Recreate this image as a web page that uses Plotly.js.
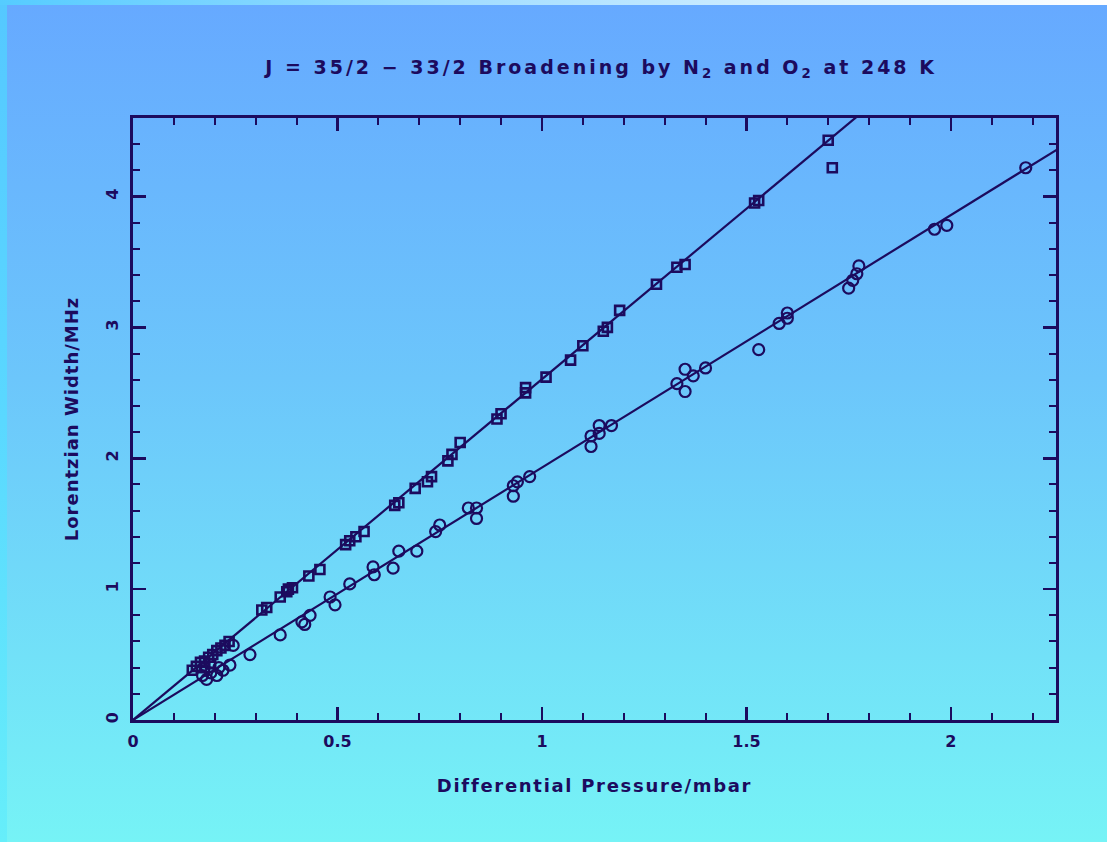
<!DOCTYPE html>
<html>
<head>
<meta charset="utf-8">
<script src="https://cdn.plot.ly/plotly-3.0.1.min.js"></script>
<style>
  html, body { margin:0; padding:0; }
  body { width:1107px; height:842px; overflow:hidden; position:relative;
         background: linear-gradient(to bottom, #66a9ff 0%, #6cc6fb 45%, #76f3f6 100%); }
  #leftstrip { position:absolute; left:0; top:0; width:7px; height:842px;
         background: linear-gradient(to bottom, #55c8ff 0%, #5ad8ff 50%, #66eefa 100%); }
  #topstrip { position:absolute; left:0; top:0; width:1107px; height:5px;
         background: linear-gradient(to right, #55ccff 0%, #9fdcff 40%, #ffffff 100%); }
  #chart { position:absolute; left:0; top:0; width:1107px; height:842px; }
  #chart .gtitle { letter-spacing: 3px; }
  #chart .xtitle { letter-spacing: 1.7px; }
  #chart .ytitle { letter-spacing: 1px; }
</style>
</head>
<body>
<div id="leftstrip"></div>
<div id="topstrip"></div>
<div id="chart"></div>
<script>
// N2 broadening data (differential pressure / mbar, Lorentzian width / MHz)
const n2Pressure = [0.145,0.155,0.165,0.175,0.185,0.195,0.205,0.215,0.225,0.235,0.175,0.19,
  0.315,0.327,0.36,0.376,0.38,0.39,0.43,0.457,0.52,0.53,0.545,0.565,
  0.64,0.65,0.69,0.72,0.73,0.77,0.78,0.80,0.89,0.90,0.96,0.96,1.01,1.07,1.10,1.15,1.16,1.19,
  1.28,1.33,1.35,1.52,1.53,1.70,1.71];
const n2Width = [0.38,0.41,0.44,0.45,0.48,0.50,0.53,0.55,0.57,0.60,0.40,0.43,
  0.84,0.86,0.94,0.98,1.00,1.01,1.10,1.15,1.34,1.37,1.40,1.44,
  1.64,1.66,1.77,1.82,1.86,1.98,2.03,2.12,2.30,2.34,2.54,2.50,2.62,2.75,2.86,2.97,3.00,3.13,
  3.33,3.46,3.48,3.95,3.97,4.43,4.22];

// O2 broadening data
const o2Pressure = [0.17,0.18,0.19,0.205,0.21,0.22,0.237,0.245,0.286,0.36,0.413,0.42,0.433,
  0.482,0.494,0.53,0.587,0.59,0.636,0.65,0.694,0.74,0.75,0.82,0.84,0.84,0.93,0.93,0.94,0.97,
  1.12,1.12,1.14,1.14,1.17,1.33,1.35,1.35,1.37,1.40,1.53,1.58,1.60,1.60,1.75,1.76,1.77,1.775,
  1.96,1.99,2.183];
const o2Width = [0.34,0.31,0.36,0.34,0.40,0.38,0.42,0.57,0.50,0.65,0.75,0.73,0.80,
  0.94,0.88,1.04,1.17,1.11,1.16,1.29,1.29,1.44,1.49,1.62,1.62,1.54,1.71,1.79,1.82,1.86,
  2.09,2.17,2.19,2.25,2.25,2.57,2.51,2.68,2.63,2.69,2.83,3.03,3.07,3.11,3.30,3.36,3.41,3.47,
  3.75,3.78,4.22];

// Fitted straight lines
const n2FitX = [0, 1.77];
const n2FitY = [0, 4.61];
const o2FitX = [0, 2.26];
const o2FitY = [0, 4.36];

// Tick labels
const xTickVals = [0, 0.5, 1, 1.5, 2];
const xTickText = ['0', '0.5', '1', '1.5', '2'];
const yTickVals = [0, 1, 2, 3, 4];
const yTickText = ['0', '1', '2', '3', '4'];

const ink = '#1c0b5e';
const fnt = 'DejaVu Sans, sans-serif';

const traces = [
  {x:n2FitX, y:n2FitY, mode:'lines', line:{color:ink, width:2.2}, hoverinfo:'skip', showlegend:false},
  {x:o2FitX, y:o2FitY, mode:'lines', line:{color:ink, width:2.2}, hoverinfo:'skip', showlegend:false},
  {x:n2Pressure, y:n2Width, mode:'markers', name:'N2',
   marker:{symbol:'square-open', size:9, color:ink, line:{color:ink, width:2.6}}, showlegend:false},
  {x:o2Pressure, y:o2Width, mode:'markers', name:'O2',
   marker:{symbol:'circle-open', size:11, color:ink, line:{color:ink, width:2.2}}, showlegend:false}
];

const axisCommon = {
  showgrid:false, zeroline:false, showline:true, linecolor:ink, linewidth:3,
  mirror:'allticks', ticks:'inside', ticklen:13, tickwidth:2.5, tickcolor:ink,
  tickfont:{family:fnt, size:16, color:ink, weight:'bold'}
};

const layout = {
  width:1107, height:842,
  margin:{l:133, r:51, t:118, b:122},
  paper_bgcolor:'rgba(0,0,0,0)', plot_bgcolor:'rgba(0,0,0,0)',
  title:{text:'J = 35/2 \u2212 33/2 Broadening by N<sub>2</sub> and O<sub>2</sub> at 248 K',
         font:{family:fnt, size:19, color:ink, weight:'bold'}, x:0.543, xanchor:'center', y:0.92, yanchor:'middle'},
  xaxis:Object.assign({}, axisCommon, {
    range:[0, 2.257], tickvals:xTickVals, ticktext:xTickText, ticklabelstandoff:5,
    minor:{ticks:'inside', dtick:0.1, tick0:0, ticklen:7, tickwidth:2, tickcolor:ink},
    title:{text:'Differential Pressure/mbar', font:{family:fnt, size:18, color:ink, weight:'bold'}, standoff:30}
  }),
  yaxis:Object.assign({}, axisCommon, {
    range:[0, 4.6], tickvals:yTickVals, ticktext:yTickText, tickangle:-90, ticklabelstandoff:6,
    minor:{ticks:'inside', dtick:0.2, tick0:0, ticklen:7, tickwidth:2, tickcolor:ink},
    title:{text:'Lorentzian Width/MHz', font:{family:fnt, size:18, color:ink, weight:'bold'}, standoff:20}
  }),
  showlegend:false
};

Plotly.newPlot('chart', traces, layout, {displayModeBar:false, staticPlot:true});
</script>
</body>
</html>
